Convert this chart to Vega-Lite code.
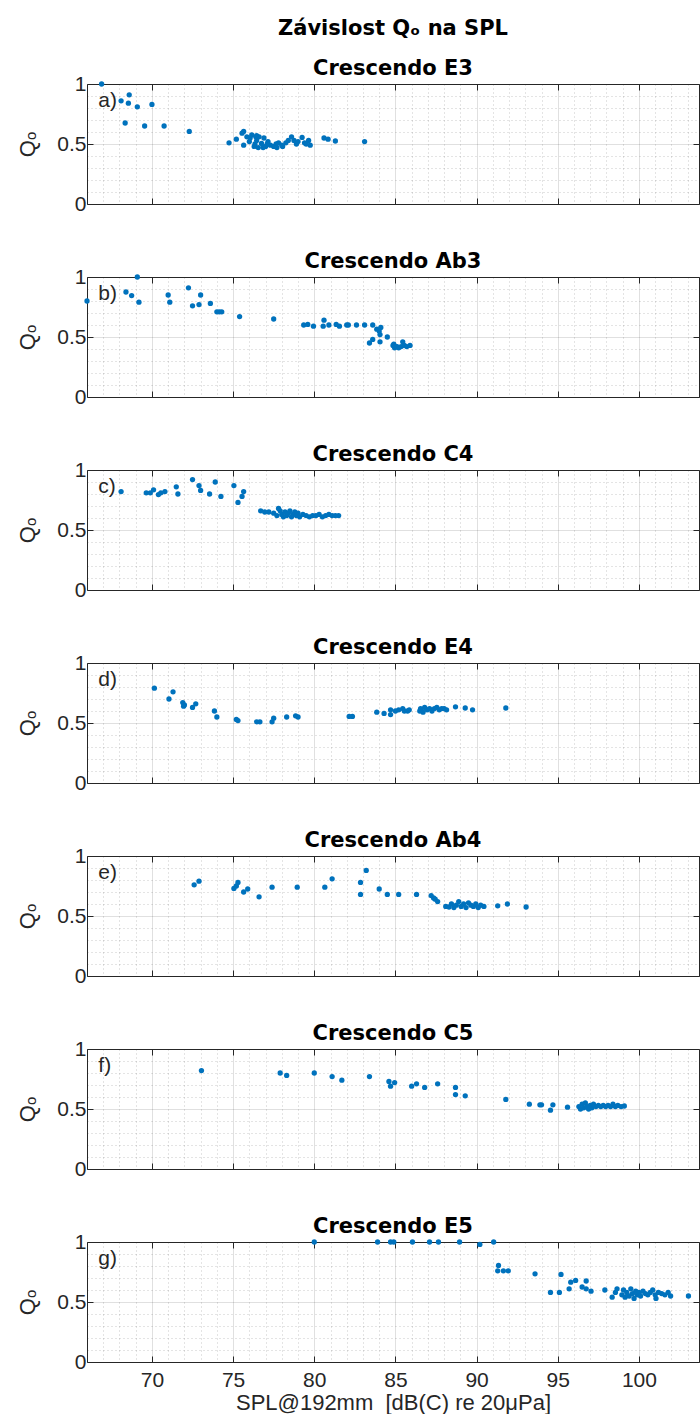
{
"$schema": "https://vega.github.io/schema/vega-lite/v6.json",
"padding": {"left": 16, "top": 17, "right": 0, "bottom": 0},
"autosize": {"type": "pad"},
"config": {
  "font": "Liberation Sans",
  "view": {"stroke": "#262626", "strokeWidth": 1},
  "concat": {"spacing": 35},
  "axis": {"labelColor": "#262626", "labelFontSize": 21, "titleColor": "#262626", "titleFontWeight": "normal", "tickColor": "#262626", "gridColor": "#262626", "domain": false, "labelOverlap": false, "labelFlush": false},
  "title": {"font": "DejaVu Sans", "fontSize": 21, "fontWeight": "bold", "color": "#000000", "frame": "group", "anchor": "middle", "offset": -6, "lineHeight": 40},
  "point": {"filled": true, "size": 28, "color": "#0072BD", "opacity": 1},
  "text": {"fontSize": 21, "color": "#262626", "align": "left", "baseline": "middle", "font": "Liberation Sans"}
},
"datasets": {
"pts": [
{"p":"a","spl":66.9,"q":1.0},{"p":"a","spl":68.1,"q":0.86},{"p":"a","spl":68.6,"q":0.91},{"p":"a","spl":68.55,"q":0.84},{"p":"a","spl":69.1,"q":0.81},{"p":"a","spl":70.0,"q":0.83},{"p":"a","spl":68.35,"q":0.675},{"p":"a","spl":69.55,"q":0.65},{"p":"a","spl":70.75,"q":0.65},{"p":"a","spl":72.3,"q":0.605},
{"p":"a","spl":74.75,"q":0.51},{"p":"a","spl":75.2,"q":0.54},{"p":"a","spl":75.55,"q":0.59},{"p":"a","spl":75.65,"q":0.49},{"p":"a","spl":75.85,"q":0.56},{"p":"a","spl":76.0,"q":0.52},{"p":"a","spl":76.15,"q":0.575},{"p":"a","spl":76.3,"q":0.48},{"p":"a","spl":76.45,"q":0.53},{"p":"a","spl":76.6,"q":0.56},{"p":"a","spl":76.75,"q":0.505},{"p":"a","spl":76.9,"q":0.55},{"p":"a","spl":77.0,"q":0.48},{"p":"a","spl":77.15,"q":0.52},{"p":"a","spl":77.3,"q":0.49},{"p":"a","spl":77.5,"q":0.48},{"p":"a","spl":77.65,"q":0.5},{"p":"a","spl":77.8,"q":0.51},{"p":"a","spl":78.05,"q":0.48},{"p":"a","spl":78.25,"q":0.51},{"p":"a","spl":78.4,"q":0.53},{"p":"a","spl":78.6,"q":0.56},{"p":"a","spl":78.75,"q":0.53},{"p":"a","spl":78.9,"q":0.5},{"p":"a","spl":79.25,"q":0.555},{"p":"a","spl":79.4,"q":0.51},{"p":"a","spl":79.65,"q":0.53},{"p":"a","spl":79.75,"q":0.49},{"p":"a","spl":80.6,"q":0.55},{"p":"a","spl":80.85,"q":0.54},{"p":"a","spl":81.3,"q":0.525},{"p":"a","spl":83.1,"q":0.52},
{"p":"a","spl":76.35,"q":0.5},{"p":"a","spl":76.55,"q":0.47},{"p":"a","spl":76.85,"q":0.47},{"p":"a","spl":77.1,"q":0.5},{"p":"a","spl":77.7,"q":0.47},{"p":"a","spl":78.0,"q":0.49},{"p":"a","spl":76.05,"q":0.55},{"p":"a","spl":76.4,"q":0.56},{"p":"a","spl":79.0,"q":0.52},{"p":"a","spl":79.5,"q":0.5},{"p":"a","spl":75.65,"q":0.605},{"p":"a","spl":76.45,"q":0.57},
{"p":"b","spl":66.0,"q":0.80},{"p":"b","spl":69.1,"q":1.0},{"p":"b","spl":68.4,"q":0.875},{"p":"b","spl":68.75,"q":0.845},{"p":"b","spl":69.2,"q":0.79},{"p":"b","spl":71.0,"q":0.85},{"p":"b","spl":71.1,"q":0.79},{"p":"b","spl":72.25,"q":0.91},{"p":"b","spl":72.5,"q":0.76},{"p":"b","spl":72.9,"q":0.77},{"p":"b","spl":73.0,"q":0.85},{"p":"b","spl":73.6,"q":0.78},{"p":"b","spl":74.0,"q":0.71},{"p":"b","spl":74.15,"q":0.71},{"p":"b","spl":74.3,"q":0.71},{"p":"b","spl":75.4,"q":0.67},{"p":"b","spl":77.5,"q":0.65},{"p":"b","spl":79.35,"q":0.6},{"p":"b","spl":79.6,"q":0.605},{"p":"b","spl":79.95,"q":0.59},{"p":"b","spl":80.6,"q":0.64},{"p":"b","spl":80.55,"q":0.59},{"p":"b","spl":80.9,"q":0.6},{"p":"b","spl":81.35,"q":0.605},{"p":"b","spl":81.55,"q":0.59},{"p":"b","spl":82.0,"q":0.6},{"p":"b","spl":82.1,"q":0.6},{"p":"b","spl":82.6,"q":0.6},{"p":"b","spl":83.1,"q":0.6},{"p":"b","spl":83.6,"q":0.6},{"p":"b","spl":83.85,"q":0.565},{"p":"b","spl":84.0,"q":0.55},{"p":"b","spl":84.1,"q":0.58},{"p":"b","spl":84.05,"q":0.52},{"p":"b","spl":83.6,"q":0.48},{"p":"b","spl":83.4,"q":0.45},{"p":"b","spl":84.05,"q":0.46},{"p":"b","spl":84.5,"q":0.5},{"p":"b","spl":84.85,"q":0.43},{"p":"b","spl":84.95,"q":0.41},{"p":"b","spl":85.1,"q":0.42},{"p":"b","spl":85.2,"q":0.41},{"p":"b","spl":85.35,"q":0.42},{"p":"b","spl":85.45,"q":0.46},{"p":"b","spl":85.55,"q":0.43},{"p":"b","spl":85.7,"q":0.42},{"p":"b","spl":85.9,"q":0.43},{"p":"b","spl":84.9,"q":0.44},{"p":"b","spl":85.0,"q":0.42},
{"p":"c","spl":68.1,"q":0.82},{"p":"c","spl":69.65,"q":0.81},{"p":"c","spl":69.9,"q":0.81},{"p":"c","spl":70.1,"q":0.835},{"p":"c","spl":70.4,"q":0.795},{"p":"c","spl":70.55,"q":0.81},{"p":"c","spl":70.8,"q":0.82},{"p":"c","spl":71.5,"q":0.86},{"p":"c","spl":71.6,"q":0.8},{"p":"c","spl":72.5,"q":0.92},{"p":"c","spl":72.9,"q":0.87},{"p":"c","spl":73.0,"q":0.83},{"p":"c","spl":73.55,"q":0.8},{"p":"c","spl":73.9,"q":0.9},{"p":"c","spl":74.25,"q":0.78},{"p":"c","spl":75.05,"q":0.87},{"p":"c","spl":75.65,"q":0.82},{"p":"c","spl":75.55,"q":0.78},{"p":"c","spl":75.3,"q":0.73},
{"p":"c","spl":76.7,"q":0.66},{"p":"c","spl":76.95,"q":0.65},{"p":"c","spl":77.2,"q":0.65},{"p":"c","spl":77.5,"q":0.64},{"p":"c","spl":77.7,"q":0.62},{"p":"c","spl":77.8,"q":0.68},{"p":"c","spl":77.9,"q":0.66},{"p":"c","spl":78.0,"q":0.63},{"p":"c","spl":78.1,"q":0.61},{"p":"c","spl":78.2,"q":0.65},{"p":"c","spl":78.3,"q":0.62},{"p":"c","spl":78.4,"q":0.64},{"p":"c","spl":78.5,"q":0.66},{"p":"c","spl":78.6,"q":0.61},{"p":"c","spl":78.7,"q":0.63},{"p":"c","spl":78.8,"q":0.65},{"p":"c","spl":78.9,"q":0.62},{"p":"c","spl":79.0,"q":0.64},{"p":"c","spl":79.1,"q":0.61},{"p":"c","spl":79.3,"q":0.63},{"p":"c","spl":79.5,"q":0.62},{"p":"c","spl":79.7,"q":0.61},{"p":"c","spl":79.9,"q":0.62},{"p":"c","spl":80.1,"q":0.62},{"p":"c","spl":80.3,"q":0.63},{"p":"c","spl":80.5,"q":0.61},{"p":"c","spl":80.7,"q":0.62},{"p":"c","spl":80.9,"q":0.63},{"p":"c","spl":81.1,"q":0.62},{"p":"c","spl":81.3,"q":0.62},{"p":"c","spl":81.5,"q":0.62},
{"p":"d","spl":70.15,"q":0.79},{"p":"d","spl":71.3,"q":0.76},{"p":"d","spl":71.05,"q":0.7},{"p":"d","spl":71.9,"q":0.67},{"p":"d","spl":71.95,"q":0.64},{"p":"d","spl":72.0,"q":0.65},{"p":"d","spl":72.5,"q":0.63},{"p":"d","spl":72.7,"q":0.66},{"p":"d","spl":73.85,"q":0.6},{"p":"d","spl":74.0,"q":0.55},{"p":"d","spl":75.2,"q":0.53},{"p":"d","spl":75.3,"q":0.52},{"p":"d","spl":76.45,"q":0.51},{"p":"d","spl":76.65,"q":0.51},{"p":"d","spl":77.4,"q":0.51},{"p":"d","spl":77.5,"q":0.54},{"p":"d","spl":78.3,"q":0.55},{"p":"d","spl":78.85,"q":0.56},{"p":"d","spl":79.0,"q":0.55},{"p":"d","spl":82.15,"q":0.555},{"p":"d","spl":82.35,"q":0.555},{"p":"d","spl":83.85,"q":0.59},{"p":"d","spl":84.3,"q":0.58},{"p":"d","spl":84.7,"q":0.57},{"p":"d","spl":84.7,"q":0.61},{"p":"d","spl":85.0,"q":0.6},{"p":"d","spl":85.2,"q":0.61},{"p":"d","spl":85.45,"q":0.62},{"p":"d","spl":85.55,"q":0.6},{"p":"d","spl":85.75,"q":0.6},{"p":"d","spl":85.85,"q":0.61},
{"p":"d","spl":86.5,"q":0.6},{"p":"d","spl":86.55,"q":0.62},{"p":"d","spl":86.7,"q":0.59},{"p":"d","spl":86.8,"q":0.63},{"p":"d","spl":86.95,"q":0.61},{"p":"d","spl":87.1,"q":0.62},{"p":"d","spl":87.25,"q":0.6},{"p":"d","spl":87.4,"q":0.62},{"p":"d","spl":87.55,"q":0.63},{"p":"d","spl":87.7,"q":0.61},{"p":"d","spl":87.85,"q":0.62},{"p":"d","spl":88.0,"q":0.62},{"p":"d","spl":88.15,"q":0.61},{"p":"d","spl":88.7,"q":0.635},{"p":"d","spl":89.3,"q":0.625},{"p":"d","spl":89.75,"q":0.61},{"p":"d","spl":91.8,"q":0.625},
{"p":"e","spl":72.6,"q":0.76},{"p":"e","spl":72.9,"q":0.79},{"p":"e","spl":75.05,"q":0.73},{"p":"e","spl":75.2,"q":0.75},{"p":"e","spl":75.3,"q":0.78},{"p":"e","spl":75.65,"q":0.7},{"p":"e","spl":75.9,"q":0.725},{"p":"e","spl":76.6,"q":0.66},{"p":"e","spl":77.4,"q":0.74},{"p":"e","spl":78.95,"q":0.74},{"p":"e","spl":80.65,"q":0.74},{"p":"e","spl":81.1,"q":0.81},{"p":"e","spl":82.85,"q":0.78},{"p":"e","spl":82.85,"q":0.68},{"p":"e","spl":83.2,"q":0.88},{"p":"e","spl":84.0,"q":0.725},{"p":"e","spl":84.5,"q":0.68},{"p":"e","spl":85.2,"q":0.68},{"p":"e","spl":86.3,"q":0.68},{"p":"e","spl":87.2,"q":0.67},{"p":"e","spl":87.35,"q":0.65},{"p":"e","spl":87.45,"q":0.64},{"p":"e","spl":87.6,"q":0.62},
{"p":"e","spl":88.1,"q":0.58},{"p":"e","spl":88.3,"q":0.575},{"p":"e","spl":88.45,"q":0.6},{"p":"e","spl":88.6,"q":0.57},{"p":"e","spl":88.75,"q":0.59},{"p":"e","spl":88.9,"q":0.62},{"p":"e","spl":89.05,"q":0.58},{"p":"e","spl":89.2,"q":0.6},{"p":"e","spl":89.35,"q":0.57},{"p":"e","spl":89.5,"q":0.61},{"p":"e","spl":89.65,"q":0.59},{"p":"e","spl":89.8,"q":0.58},{"p":"e","spl":89.95,"q":0.6},{"p":"e","spl":90.1,"q":0.57},{"p":"e","spl":90.25,"q":0.59},{"p":"e","spl":90.45,"q":0.58},{"p":"e","spl":91.3,"q":0.585},{"p":"e","spl":91.9,"q":0.6},{"p":"e","spl":93.05,"q":0.575},
{"p":"f","spl":73.05,"q":0.82},{"p":"f","spl":77.9,"q":0.8},{"p":"f","spl":78.3,"q":0.78},{"p":"f","spl":80.0,"q":0.8},{"p":"f","spl":81.1,"q":0.77},{"p":"f","spl":81.7,"q":0.74},{"p":"f","spl":83.4,"q":0.77},{"p":"f","spl":84.6,"q":0.73},{"p":"f","spl":84.7,"q":0.69},{"p":"f","spl":84.95,"q":0.72},{"p":"f","spl":86.0,"q":0.69},{"p":"f","spl":86.3,"q":0.71},{"p":"f","spl":86.8,"q":0.68},{"p":"f","spl":87.6,"q":0.71},{"p":"f","spl":88.7,"q":0.68},{"p":"f","spl":88.7,"q":0.62},{"p":"f","spl":89.3,"q":0.61},{"p":"f","spl":91.8,"q":0.58},{"p":"f","spl":93.25,"q":0.54},{"p":"f","spl":93.9,"q":0.535},{"p":"f","spl":94.0,"q":0.535},{"p":"f","spl":94.55,"q":0.49},{"p":"f","spl":94.7,"q":0.535},{"p":"f","spl":95.6,"q":0.515},
{"p":"f","spl":96.3,"q":0.52},{"p":"f","spl":96.4,"q":0.5},{"p":"f","spl":96.5,"q":0.54},{"p":"f","spl":96.6,"q":0.51},{"p":"f","spl":96.7,"q":0.55},{"p":"f","spl":96.8,"q":0.52},{"p":"f","spl":96.9,"q":0.5},{"p":"f","spl":97.0,"q":0.53},{"p":"f","spl":97.1,"q":0.51},{"p":"f","spl":97.2,"q":0.54},{"p":"f","spl":97.35,"q":0.52},{"p":"f","spl":97.5,"q":0.53},{"p":"f","spl":97.65,"q":0.52},{"p":"f","spl":97.8,"q":0.53},{"p":"f","spl":97.95,"q":0.52},{"p":"f","spl":98.1,"q":0.53},{"p":"f","spl":98.25,"q":0.52},{"p":"f","spl":98.4,"q":0.54},{"p":"f","spl":98.55,"q":0.52},{"p":"f","spl":98.7,"q":0.53},{"p":"f","spl":98.9,"q":0.52},{"p":"f","spl":99.1,"q":0.525},
{"p":"g","spl":80.0,"q":1.0},{"p":"g","spl":83.9,"q":1.0},{"p":"g","spl":84.7,"q":1.0},{"p":"g","spl":84.9,"q":1.0},{"p":"g","spl":86.05,"q":1.0},{"p":"g","spl":87.1,"q":1.0},{"p":"g","spl":87.65,"q":1.0},{"p":"g","spl":88.95,"q":1.0},{"p":"g","spl":90.2,"q":0.98},{"p":"g","spl":91.05,"q":1.0},{"p":"g","spl":91.35,"q":0.805},{"p":"g","spl":91.3,"q":0.76},{"p":"g","spl":91.65,"q":0.76},{"p":"g","spl":91.95,"q":0.76},{"p":"g","spl":93.6,"q":0.735},{"p":"g","spl":95.2,"q":0.73},{"p":"g","spl":95.8,"q":0.665},{"p":"g","spl":96.1,"q":0.68},{"p":"g","spl":95.7,"q":0.61},{"p":"g","spl":94.55,"q":0.58},{"p":"g","spl":95.1,"q":0.58},{"p":"g","spl":96.5,"q":0.625},{"p":"g","spl":96.75,"q":0.675},{"p":"g","spl":96.75,"q":0.61},{"p":"g","spl":97.05,"q":0.59},{"p":"g","spl":97.9,"q":0.6},{"p":"g","spl":98.35,"q":0.54},{"p":"g","spl":98.55,"q":0.58},{"p":"g","spl":98.65,"q":0.61},
{"p":"g","spl":98.95,"q":0.56},{"p":"g","spl":99.05,"q":0.6},{"p":"g","spl":99.15,"q":0.54},{"p":"g","spl":99.25,"q":0.58},{"p":"g","spl":99.4,"q":0.55},{"p":"g","spl":99.5,"q":0.61},{"p":"g","spl":99.6,"q":0.57},{"p":"g","spl":99.7,"q":0.53},{"p":"g","spl":99.8,"q":0.59},{"p":"g","spl":99.9,"q":0.56},{"p":"g","spl":100.0,"q":0.58},{"p":"g","spl":100.1,"q":0.55},{"p":"g","spl":100.25,"q":0.59},{"p":"g","spl":100.4,"q":0.57},{"p":"g","spl":100.55,"q":0.56},{"p":"g","spl":100.7,"q":0.58},{"p":"g","spl":100.85,"q":0.6},{"p":"g","spl":101.0,"q":0.56},{"p":"g","spl":101.05,"q":0.53},{"p":"g","spl":101.2,"q":0.58},{"p":"g","spl":101.4,"q":0.57},{"p":"g","spl":101.6,"q":0.56},{"p":"g","spl":101.8,"q":0.58},{"p":"g","spl":101.95,"q":0.55},{"p":"g","spl":103.05,"q":0.55}
]
},
"vconcat": [
{"width": 612, "height": 120, "title": {"text": ["Závislost Qₒ na SPL", "Crescendo E3"]},
 "resolve": {"axis": {"x": "independent", "y": "independent"}},
 "layer": [
  {"data": {"name": "pts"}, "transform": [{"filter": "datum.p === 'a'"}], "mark": {"type": "point"},
   "encoding": {
    "x": {"field": "spl", "type": "quantitative", "scale": {"domain": [66, 103.7], "nice": false, "zero": false},
      "axis": {"orient": "bottom", "values": [67,68,69,70,71,72,73,74,75,76,77,78,79,80,81,82,83,84,85,86,87,88,89,90,91,92,93,94,95,96,97,98,99,100,101,102,103], "title": null, "labels": false, "tickSize": -6, "tickOpacity": {"condition": {"test": "datum.value % 5 === 0", "value": 1}, "value": 0}, "gridOpacity": {"condition": {"test": "datum.value % 5 === 0", "value": 0.15}, "value": 0.25}, "gridDash": {"condition": {"test": "datum.value % 5 === 0", "value": [1, 0]}, "value": [1, 3]}}},
    "y": {"field": "q", "type": "quantitative", "scale": {"domain": [0, 1], "nice": false},
      "axis": {"orient": "left", "values": [0,0.1,0.2,0.3,0.4,0.5,0.6,0.7,0.8,0.9,1], "title": "Qₒ", "titleFontSize": 22, "titlePadding": 17, "labelPadding": 7, "labelExpr": "abs(datum.value*2-round(datum.value*2)) < 0.001 ? '' + datum.value : ''", "tickSize": -6, "tickOpacity": {"condition": {"test": "abs(datum.value*2-round(datum.value*2)) < 0.001", "value": 1}, "value": 0}, "gridOpacity": {"condition": {"test": "abs(datum.value*2-round(datum.value*2)) < 0.001", "value": 0.15}, "value": 0.25}, "gridDash": {"condition": {"test": "abs(datum.value*2-round(datum.value*2)) < 0.001", "value": [1, 0]}, "value": [1, 3]}}}
   }},
  {"data": {"values": [{}]}, "mark": {"type": "text", "text": "a)"},
   "encoding": {
    "x": {"datum": 66.7, "type": "quantitative", "scale": {"domain": [66, 103.7], "nice": false, "zero": false}, "axis": {"orient": "top", "values": [70,75,80,85,90,95,100], "title": null, "labels": false, "grid": false, "tickSize": -6}},
    "y": {"datum": 0.86, "type": "quantitative", "scale": {"domain": [0, 1], "nice": false}, "axis": {"orient": "right", "values": [0,0.5,1], "title": null, "labels": false, "grid": false, "tickSize": -6}}
   }}
 ]},
{"width": 612, "height": 120, "title": {"text": "Crescendo Ab3"},
 "resolve": {"axis": {"x": "independent", "y": "independent"}},
 "layer": [
  {"data": {"name": "pts"}, "transform": [{"filter": "datum.p === 'b'"}], "mark": {"type": "point"},
   "encoding": {
    "x": {"field": "spl", "type": "quantitative", "scale": {"domain": [66, 103.7], "nice": false, "zero": false},
      "axis": {"orient": "bottom", "values": [67,68,69,70,71,72,73,74,75,76,77,78,79,80,81,82,83,84,85,86,87,88,89,90,91,92,93,94,95,96,97,98,99,100,101,102,103], "title": null, "labels": false, "tickSize": -6, "tickOpacity": {"condition": {"test": "datum.value % 5 === 0", "value": 1}, "value": 0}, "gridOpacity": {"condition": {"test": "datum.value % 5 === 0", "value": 0.15}, "value": 0.25}, "gridDash": {"condition": {"test": "datum.value % 5 === 0", "value": [1, 0]}, "value": [1, 3]}}},
    "y": {"field": "q", "type": "quantitative", "scale": {"domain": [0, 1], "nice": false},
      "axis": {"orient": "left", "values": [0,0.1,0.2,0.3,0.4,0.5,0.6,0.7,0.8,0.9,1], "title": "Qₒ", "titleFontSize": 22, "titlePadding": 17, "labelPadding": 7, "labelExpr": "abs(datum.value*2-round(datum.value*2)) < 0.001 ? '' + datum.value : ''", "tickSize": -6, "tickOpacity": {"condition": {"test": "abs(datum.value*2-round(datum.value*2)) < 0.001", "value": 1}, "value": 0}, "gridOpacity": {"condition": {"test": "abs(datum.value*2-round(datum.value*2)) < 0.001", "value": 0.15}, "value": 0.25}, "gridDash": {"condition": {"test": "abs(datum.value*2-round(datum.value*2)) < 0.001", "value": [1, 0]}, "value": [1, 3]}}}
   }},
  {"data": {"values": [{}]}, "mark": {"type": "text", "text": "b)"},
   "encoding": {
    "x": {"datum": 66.7, "type": "quantitative", "scale": {"domain": [66, 103.7], "nice": false, "zero": false}, "axis": {"orient": "top", "values": [70,75,80,85,90,95,100], "title": null, "labels": false, "grid": false, "tickSize": -6}},
    "y": {"datum": 0.86, "type": "quantitative", "scale": {"domain": [0, 1], "nice": false}, "axis": {"orient": "right", "values": [0,0.5,1], "title": null, "labels": false, "grid": false, "tickSize": -6}}
   }}
 ]},
{"width": 612, "height": 120, "title": {"text": "Crescendo C4"},
 "resolve": {"axis": {"x": "independent", "y": "independent"}},
 "layer": [
  {"data": {"name": "pts"}, "transform": [{"filter": "datum.p === 'c'"}], "mark": {"type": "point"},
   "encoding": {
    "x": {"field": "spl", "type": "quantitative", "scale": {"domain": [66, 103.7], "nice": false, "zero": false},
      "axis": {"orient": "bottom", "values": [67,68,69,70,71,72,73,74,75,76,77,78,79,80,81,82,83,84,85,86,87,88,89,90,91,92,93,94,95,96,97,98,99,100,101,102,103], "title": null, "labels": false, "tickSize": -6, "tickOpacity": {"condition": {"test": "datum.value % 5 === 0", "value": 1}, "value": 0}, "gridOpacity": {"condition": {"test": "datum.value % 5 === 0", "value": 0.15}, "value": 0.25}, "gridDash": {"condition": {"test": "datum.value % 5 === 0", "value": [1, 0]}, "value": [1, 3]}}},
    "y": {"field": "q", "type": "quantitative", "scale": {"domain": [0, 1], "nice": false},
      "axis": {"orient": "left", "values": [0,0.1,0.2,0.3,0.4,0.5,0.6,0.7,0.8,0.9,1], "title": "Qₒ", "titleFontSize": 22, "titlePadding": 17, "labelPadding": 7, "labelExpr": "abs(datum.value*2-round(datum.value*2)) < 0.001 ? '' + datum.value : ''", "tickSize": -6, "tickOpacity": {"condition": {"test": "abs(datum.value*2-round(datum.value*2)) < 0.001", "value": 1}, "value": 0}, "gridOpacity": {"condition": {"test": "abs(datum.value*2-round(datum.value*2)) < 0.001", "value": 0.15}, "value": 0.25}, "gridDash": {"condition": {"test": "abs(datum.value*2-round(datum.value*2)) < 0.001", "value": [1, 0]}, "value": [1, 3]}}}
   }},
  {"data": {"values": [{}]}, "mark": {"type": "text", "text": "c)"},
   "encoding": {
    "x": {"datum": 66.7, "type": "quantitative", "scale": {"domain": [66, 103.7], "nice": false, "zero": false}, "axis": {"orient": "top", "values": [70,75,80,85,90,95,100], "title": null, "labels": false, "grid": false, "tickSize": -6}},
    "y": {"datum": 0.86, "type": "quantitative", "scale": {"domain": [0, 1], "nice": false}, "axis": {"orient": "right", "values": [0,0.5,1], "title": null, "labels": false, "grid": false, "tickSize": -6}}
   }}
 ]},
{"width": 612, "height": 120, "title": {"text": "Crescendo E4"},
 "resolve": {"axis": {"x": "independent", "y": "independent"}},
 "layer": [
  {"data": {"name": "pts"}, "transform": [{"filter": "datum.p === 'd'"}], "mark": {"type": "point"},
   "encoding": {
    "x": {"field": "spl", "type": "quantitative", "scale": {"domain": [66, 103.7], "nice": false, "zero": false},
      "axis": {"orient": "bottom", "values": [67,68,69,70,71,72,73,74,75,76,77,78,79,80,81,82,83,84,85,86,87,88,89,90,91,92,93,94,95,96,97,98,99,100,101,102,103], "title": null, "labels": false, "tickSize": -6, "tickOpacity": {"condition": {"test": "datum.value % 5 === 0", "value": 1}, "value": 0}, "gridOpacity": {"condition": {"test": "datum.value % 5 === 0", "value": 0.15}, "value": 0.25}, "gridDash": {"condition": {"test": "datum.value % 5 === 0", "value": [1, 0]}, "value": [1, 3]}}},
    "y": {"field": "q", "type": "quantitative", "scale": {"domain": [0, 1], "nice": false},
      "axis": {"orient": "left", "values": [0,0.1,0.2,0.3,0.4,0.5,0.6,0.7,0.8,0.9,1], "title": "Qₒ", "titleFontSize": 22, "titlePadding": 17, "labelPadding": 7, "labelExpr": "abs(datum.value*2-round(datum.value*2)) < 0.001 ? '' + datum.value : ''", "tickSize": -6, "tickOpacity": {"condition": {"test": "abs(datum.value*2-round(datum.value*2)) < 0.001", "value": 1}, "value": 0}, "gridOpacity": {"condition": {"test": "abs(datum.value*2-round(datum.value*2)) < 0.001", "value": 0.15}, "value": 0.25}, "gridDash": {"condition": {"test": "abs(datum.value*2-round(datum.value*2)) < 0.001", "value": [1, 0]}, "value": [1, 3]}}}
   }},
  {"data": {"values": [{}]}, "mark": {"type": "text", "text": "d)"},
   "encoding": {
    "x": {"datum": 66.7, "type": "quantitative", "scale": {"domain": [66, 103.7], "nice": false, "zero": false}, "axis": {"orient": "top", "values": [70,75,80,85,90,95,100], "title": null, "labels": false, "grid": false, "tickSize": -6}},
    "y": {"datum": 0.86, "type": "quantitative", "scale": {"domain": [0, 1], "nice": false}, "axis": {"orient": "right", "values": [0,0.5,1], "title": null, "labels": false, "grid": false, "tickSize": -6}}
   }}
 ]},
{"width": 612, "height": 120, "title": {"text": "Crescendo Ab4"},
 "resolve": {"axis": {"x": "independent", "y": "independent"}},
 "layer": [
  {"data": {"name": "pts"}, "transform": [{"filter": "datum.p === 'e'"}], "mark": {"type": "point"},
   "encoding": {
    "x": {"field": "spl", "type": "quantitative", "scale": {"domain": [66, 103.7], "nice": false, "zero": false},
      "axis": {"orient": "bottom", "values": [67,68,69,70,71,72,73,74,75,76,77,78,79,80,81,82,83,84,85,86,87,88,89,90,91,92,93,94,95,96,97,98,99,100,101,102,103], "title": null, "labels": false, "tickSize": -6, "tickOpacity": {"condition": {"test": "datum.value % 5 === 0", "value": 1}, "value": 0}, "gridOpacity": {"condition": {"test": "datum.value % 5 === 0", "value": 0.15}, "value": 0.25}, "gridDash": {"condition": {"test": "datum.value % 5 === 0", "value": [1, 0]}, "value": [1, 3]}}},
    "y": {"field": "q", "type": "quantitative", "scale": {"domain": [0, 1], "nice": false},
      "axis": {"orient": "left", "values": [0,0.1,0.2,0.3,0.4,0.5,0.6,0.7,0.8,0.9,1], "title": "Qₒ", "titleFontSize": 22, "titlePadding": 17, "labelPadding": 7, "labelExpr": "abs(datum.value*2-round(datum.value*2)) < 0.001 ? '' + datum.value : ''", "tickSize": -6, "tickOpacity": {"condition": {"test": "abs(datum.value*2-round(datum.value*2)) < 0.001", "value": 1}, "value": 0}, "gridOpacity": {"condition": {"test": "abs(datum.value*2-round(datum.value*2)) < 0.001", "value": 0.15}, "value": 0.25}, "gridDash": {"condition": {"test": "abs(datum.value*2-round(datum.value*2)) < 0.001", "value": [1, 0]}, "value": [1, 3]}}}
   }},
  {"data": {"values": [{}]}, "mark": {"type": "text", "text": "e)"},
   "encoding": {
    "x": {"datum": 66.7, "type": "quantitative", "scale": {"domain": [66, 103.7], "nice": false, "zero": false}, "axis": {"orient": "top", "values": [70,75,80,85,90,95,100], "title": null, "labels": false, "grid": false, "tickSize": -6}},
    "y": {"datum": 0.86, "type": "quantitative", "scale": {"domain": [0, 1], "nice": false}, "axis": {"orient": "right", "values": [0,0.5,1], "title": null, "labels": false, "grid": false, "tickSize": -6}}
   }}
 ]},
{"width": 612, "height": 120, "title": {"text": "Crescendo C5"},
 "resolve": {"axis": {"x": "independent", "y": "independent"}},
 "layer": [
  {"data": {"name": "pts"}, "transform": [{"filter": "datum.p === 'f'"}], "mark": {"type": "point"},
   "encoding": {
    "x": {"field": "spl", "type": "quantitative", "scale": {"domain": [66, 103.7], "nice": false, "zero": false},
      "axis": {"orient": "bottom", "values": [67,68,69,70,71,72,73,74,75,76,77,78,79,80,81,82,83,84,85,86,87,88,89,90,91,92,93,94,95,96,97,98,99,100,101,102,103], "title": null, "labels": false, "tickSize": -6, "tickOpacity": {"condition": {"test": "datum.value % 5 === 0", "value": 1}, "value": 0}, "gridOpacity": {"condition": {"test": "datum.value % 5 === 0", "value": 0.15}, "value": 0.25}, "gridDash": {"condition": {"test": "datum.value % 5 === 0", "value": [1, 0]}, "value": [1, 3]}}},
    "y": {"field": "q", "type": "quantitative", "scale": {"domain": [0, 1], "nice": false},
      "axis": {"orient": "left", "values": [0,0.1,0.2,0.3,0.4,0.5,0.6,0.7,0.8,0.9,1], "title": "Qₒ", "titleFontSize": 22, "titlePadding": 17, "labelPadding": 7, "labelExpr": "abs(datum.value*2-round(datum.value*2)) < 0.001 ? '' + datum.value : ''", "tickSize": -6, "tickOpacity": {"condition": {"test": "abs(datum.value*2-round(datum.value*2)) < 0.001", "value": 1}, "value": 0}, "gridOpacity": {"condition": {"test": "abs(datum.value*2-round(datum.value*2)) < 0.001", "value": 0.15}, "value": 0.25}, "gridDash": {"condition": {"test": "abs(datum.value*2-round(datum.value*2)) < 0.001", "value": [1, 0]}, "value": [1, 3]}}}
   }},
  {"data": {"values": [{}]}, "mark": {"type": "text", "text": "f)"},
   "encoding": {
    "x": {"datum": 66.7, "type": "quantitative", "scale": {"domain": [66, 103.7], "nice": false, "zero": false}, "axis": {"orient": "top", "values": [70,75,80,85,90,95,100], "title": null, "labels": false, "grid": false, "tickSize": -6}},
    "y": {"datum": 0.86, "type": "quantitative", "scale": {"domain": [0, 1], "nice": false}, "axis": {"orient": "right", "values": [0,0.5,1], "title": null, "labels": false, "grid": false, "tickSize": -6}}
   }}
 ]},
{"width": 612, "height": 120, "title": {"text": "Crescendo E5"},
 "resolve": {"axis": {"x": "independent", "y": "independent"}},
 "layer": [
  {"data": {"name": "pts"}, "transform": [{"filter": "datum.p === 'g'"}], "mark": {"type": "point"},
   "encoding": {
    "x": {"field": "spl", "type": "quantitative", "scale": {"domain": [66, 103.7], "nice": false, "zero": false},
      "axis": {"orient": "bottom", "values": [67,68,69,70,71,72,73,74,75,76,77,78,79,80,81,82,83,84,85,86,87,88,89,90,91,92,93,94,95,96,97,98,99,100,101,102,103], "title": "SPL@192mm\u00a0\u00a0[dB(C) re 20μPa]", "titleFontSize": 22, "titlePadding": 2, "labels": true, "labelPadding": 13, "labelExpr": "datum.value % 5 === 0 ? datum.label : ''", "tickSize": -6, "tickOpacity": {"condition": {"test": "datum.value % 5 === 0", "value": 1}, "value": 0}, "gridOpacity": {"condition": {"test": "datum.value % 5 === 0", "value": 0.15}, "value": 0.25}, "gridDash": {"condition": {"test": "datum.value % 5 === 0", "value": [1, 0]}, "value": [1, 3]}}},
    "y": {"field": "q", "type": "quantitative", "scale": {"domain": [0, 1], "nice": false},
      "axis": {"orient": "left", "values": [0,0.1,0.2,0.3,0.4,0.5,0.6,0.7,0.8,0.9,1], "title": "Qₒ", "titleFontSize": 22, "titlePadding": 17, "labelPadding": 7, "labelExpr": "abs(datum.value*2-round(datum.value*2)) < 0.001 ? '' + datum.value : ''", "tickSize": -6, "tickOpacity": {"condition": {"test": "abs(datum.value*2-round(datum.value*2)) < 0.001", "value": 1}, "value": 0}, "gridOpacity": {"condition": {"test": "abs(datum.value*2-round(datum.value*2)) < 0.001", "value": 0.15}, "value": 0.25}, "gridDash": {"condition": {"test": "abs(datum.value*2-round(datum.value*2)) < 0.001", "value": [1, 0]}, "value": [1, 3]}}}
   }},
  {"data": {"values": [{}]}, "mark": {"type": "text", "text": "g)"},
   "encoding": {
    "x": {"datum": 66.7, "type": "quantitative", "scale": {"domain": [66, 103.7], "nice": false, "zero": false}, "axis": {"orient": "top", "values": [70,75,80,85,90,95,100], "title": null, "labels": false, "grid": false, "tickSize": -6}},
    "y": {"datum": 0.86, "type": "quantitative", "scale": {"domain": [0, 1], "nice": false}, "axis": {"orient": "right", "values": [0,0.5,1], "title": null, "labels": false, "grid": false, "tickSize": -6}}
   }}
 ]}
]
}
